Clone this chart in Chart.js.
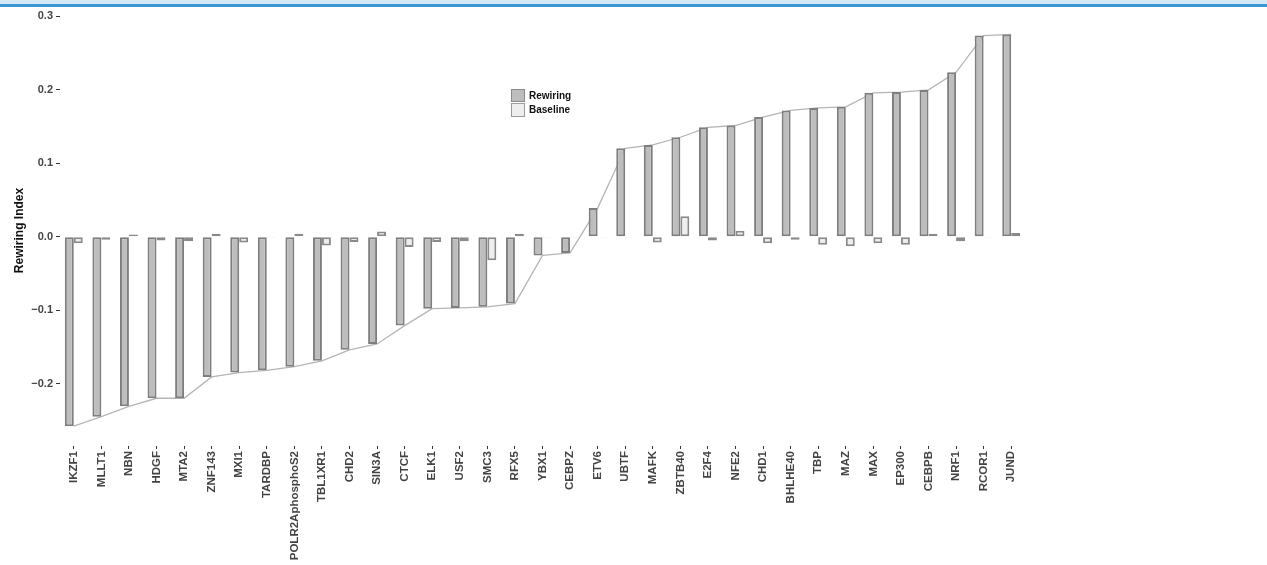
<!DOCTYPE html>
<html>
<head>
<meta charset="utf-8">
<script src="https://cdn.jsdelivr.net/npm/chart.js@4"></script>
<style>
  html, body { margin: 0; padding: 0; background: #fff; }
  body { width: 1267px; height: 565px; position: relative; overflow: hidden; font-family: "Liberation Sans", Arial, sans-serif; }
  #band { position: absolute; left: 0; top: 0; width: 1267px; height: 4px; background: #d4e8f6; z-index: 2; }
  #rule { position: absolute; left: 0; top: 4px; width: 1267px; height: 3px; background: #3a97d3; z-index: 2; }
  #wrap { position: absolute; left: 0; top: 0; width: 1267px; height: 565px; }
  .legend { position: absolute; left: 511px; top: 88px; z-index: 2; font-weight: bold; font-size: 10px; color: #111; }
  .legend div { height: 14.5px; display: flex; align-items: center; }
  .legend span.box { display: inline-block; width: 12px; height: 11.5px; margin-right: 4px; }
</style>
</head>
<body>
<div id="band"></div>
<div id="rule"></div>
<div id="wrap"><canvas id="rewiringChart" width="1267" height="565"></canvas></div>
<div class="legend">
  <div><span class="box" style="background:#bdbdbd;border:1.5px solid #8a8a8a"></span>Rewiring</div>
  <div><span class="box" style="background:#eeeeee;border:1.5px solid #9a9a9a"></span>Baseline</div>
</div>
<script>
const factors = ["IKZF1", "MLLT1", "NBN", "HDGF", "MTA2", "ZNF143", "MXI1", "TARDBP",
  "POLR2AphosphoS2", "TBL1XR1", "CHD2", "SIN3A", "CTCF", "ELK1", "USF2", "SMC3", "RFX5",
  "YBX1", "CEBPZ", "ETV6", "UBTF", "MAFK", "ZBTB40", "E2F4", "NFE2", "CHD1", "BHLHE40",
  "TBP", "MAZ", "MAX", "EP300", "CEBPB", "NRF1", "RCOR1", "JUND"];

const rewiring = [-0.258, -0.245, -0.231, -0.220, -0.220, -0.191, -0.185, -0.182, -0.177,
  -0.169, -0.154, -0.146, -0.121, -0.098, -0.097, -0.0955, -0.091, -0.0255, -0.022, 0.039,
  0.1205, 0.125, 0.1355, 0.149, 0.1515, 0.163, 0.172, 0.1755, 0.177, 0.196, 0.197, 0.200,
  0.224, 0.274, 0.2755];

const baseline = [-0.009, -0.004, 0.003, -0.005, -0.006, 0.004, -0.008, -0.001, 0.004,
  -0.012, -0.007, 0.007, -0.014, -0.007, -0.006, -0.032, 0.004, -0.001, -0.001, -0.001,
  -0.001, -0.008, 0.028, -0.005, 0.008, -0.009, -0.004, -0.011, -0.013, -0.009, -0.011,
  0.004, -0.006, -0.001, 0.005];

const yTicks = [-0.2, -0.1, 0.0, 0.1, 0.2, 0.3];

const fontFamily = "'Liberation Sans', Arial, sans-serif";

const ctx = document.getElementById("rewiringChart").getContext("2d");

new Chart(ctx, {
  type: "bar",
  data: {
    labels: factors,
    datasets: [
      {
        type: "line",
        label: "trend",
        data: rewiring,
        borderColor: "#b5b5b5",
        borderWidth: 1.3,
        pointRadius: 0,
        fill: false,
        tension: 0,
        order: 3,
      },
      {
        label: "Rewiring",
        data: rewiring,
        backgroundColor: "#bdbdbd",
        borderColor: "#7e7e7e",
        borderWidth: 2,
        borderSkipped: false,
        order: 1,
      },
      {
        label: "Baseline",
        data: baseline,
        backgroundColor: "#eeeeee",
        borderColor: "#8a8a8a",
        borderWidth: 2,
        borderSkipped: false,
        order: 2,
      },
    ],
  },
  options: {
    responsive: false,
    animation: false,
    layout: { padding: { left: 0, top: 15, right: 242, bottom: 0 } },
    datasets: { bar: { categoryPercentage: 0.65, barPercentage: 1.0 } },
    plugins: {
      legend: { display: false },
      tooltip: { enabled: false },
    },
    scales: {
      x: {
        offset: true,
        border: { display: false },
        grid: { offset: false, drawOnChartArea: false, drawTicks: true, tickLength: 3, color: "#333" },
        ticks: {
          autoSkip: false,
          minRotation: 90,
          maxRotation: 90,
          padding: 2,
          color: "#444",
          font: { family: fontFamily, size: 11.5, weight: "bold" },
        },
        afterFit: (scale) => { scale.height = 119; },
      },
      y: {
        min: -0.285,
        max: 0.302,
        border: { display: false },
        grid: { drawOnChartArea: false, drawTicks: true, tickLength: 4, color: "#333" },
        afterBuildTicks: (scale) => { scale.ticks = yTicks.map((v) => ({ value: v })); },
        ticks: {
          padding: 3,
          color: "#444",
          font: { family: fontFamily, size: 11, weight: "bold" },
          callback: (v) => (v < 0 ? "\u2212" : "") + Math.abs(v).toFixed(1),
        },
        title: {
          display: true,
          text: "Rewiring Index",
          color: "#111",
          font: { family: fontFamily, size: 12, weight: "bold" },
          padding: { top: 12, bottom: 0 },
        },
        afterFit: (scale) => { scale.width = 60; },
      },
    },
  },
});
</script>
</body>
</html>
